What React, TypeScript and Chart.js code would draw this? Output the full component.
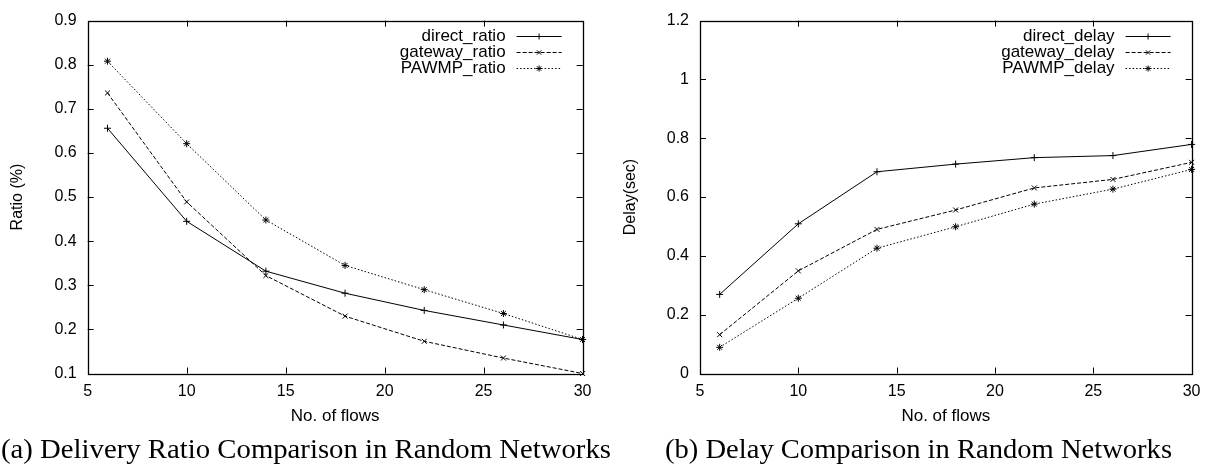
import React, { useEffect, useRef } from "react";
import { Chart, registerables } from "chart.js";

Chart.register(...registerables);

// ---- data ----
const xFlows = [6, 10, 14, 18, 22, 26, 30];

const directRatio = [0.656, 0.445, 0.332, 0.282, 0.243, 0.21, 0.177];
const gatewayRatio = [0.736, 0.489, 0.322, 0.23, 0.173, 0.135, 0.1];
const pawmpRatio = [0.808, 0.621, 0.448, 0.345, 0.29, 0.236, 0.177];

const directDelay = [0.269, 0.509, 0.686, 0.712, 0.734, 0.741, 0.779];
const gatewayDelay = [0.132, 0.349, 0.49, 0.556, 0.631, 0.66, 0.718];
const pawmpDelay = [0.089, 0.256, 0.426, 0.499, 0.576, 0.627, 0.694];

const ratioLabels = ["direct_ratio", "gateway_ratio", "PAWMP_ratio"];
const delayLabels = ["direct_delay", "gateway_delay", "PAWMP_delay"];

const xTitle = "No. of flows";
const ratioTitle = "Ratio (%)";
const delayTitle = "Delay(sec)";
const captionA = "(a) Delivery Ratio Comparison in Random Networks";
const captionB = "(b) Delay Comparison in Random Networks";

const FONT = "Liberation Sans";
const FS_TICK = 16;
const FS_TITLE = 17;
const FS_YTITLE = 16;
const FS_LEGEND = 17;

const styles = [
  { dash: [] as number[], point: "cross" },
  { dash: [4, 2], point: "crossRot" },
  { dash: [1.5, 2], point: "star" },
];

function drawMarker(ctx: CanvasRenderingContext2D, style: string, x: number, y: number, r: number) {
  ctx.save();
  ctx.setLineDash([]);
  ctx.lineWidth = 1;
  ctx.strokeStyle = "#000";
  ctx.beginPath();
  if (style === "cross" || style === "star") {
    ctx.moveTo(x - r, y);
    ctx.lineTo(x + r, y);
    ctx.moveTo(x, y - r);
    ctx.lineTo(x, y + r);
  }
  if (style === "crossRot" || style === "star") {
    const d = r * 0.72;
    ctx.moveTo(x - d, y - d);
    ctx.lineTo(x + d, y + d);
    ctx.moveTo(x - d, y + d);
    ctx.lineTo(x + d, y - d);
  }
  ctx.stroke();
  ctx.restore();
}

const framePlugin = {
  id: "gnuFrame",
  afterDatasetsDraw(chart: any) {
    const { ctx, chartArea: a, scales } = chart;
    ctx.save();
    ctx.strokeStyle = "#000";
    ctx.lineWidth = 1;
    ctx.setLineDash([]);
    const L = 6;
    ctx.beginPath();
    for (const t of scales.x.ticks) {
      const px = Math.round(scales.x.getPixelForValue(t.value)) + 0.5;
      if (px <= a.left + 1 || px >= a.right - 1) continue;
      ctx.moveTo(px, a.bottom);
      ctx.lineTo(px, a.bottom - L);
      ctx.moveTo(px, a.top);
      ctx.lineTo(px, a.top + L);
    }
    for (const t of scales.y.ticks) {
      const py = Math.round(scales.y.getPixelForValue(t.value)) + 0.5;
      if (py <= a.top + 1 || py >= a.bottom - 1) continue;
      ctx.moveTo(a.left, py);
      ctx.lineTo(a.left + L, py);
      ctx.moveTo(a.right, py);
      ctx.lineTo(a.right - L, py);
    }
    ctx.stroke();
    ctx.lineWidth = 1.3;
    ctx.strokeRect(Math.round(a.left) + 0.5, Math.round(a.top) + 0.5, Math.round(a.right - a.left), Math.round(a.bottom - a.top));
    ctx.restore();
  },
};

const legendPlugin = {
  id: "gnuLegend",
  afterDraw(chart: any) {
    const { ctx, chartArea: a } = chart;
    ctx.save();
    ctx.font = `${FS_LEGEND}px "${FONT}"`;
    ctx.fillStyle = "#000";
    ctx.textAlign = "right";
    ctx.textBaseline = "middle";
    chart.data.datasets.forEach((ds: any, i: number) => {
      const y = a.top + 15.5 + i * 16;
      ctx.fillText(ds.label, a.right - 77, y);
      const x0 = a.right - 66;
      const x1 = a.right - 21;
      ctx.beginPath();
      ctx.setLineDash(ds.borderDash || []);
      ctx.lineWidth = 1;
      ctx.strokeStyle = "#000";
      ctx.moveTo(x0, Math.round(y) + 0.5);
      ctx.lineTo(x1, Math.round(y) + 0.5);
      ctx.stroke();
      drawMarker(ctx, ds.pointStyle, (x0 + x1) / 2, Math.round(y) + 0.5, 3);
    });
    ctx.restore();
  },
};

function makeDatasets(series: number[][], labels: string[]) {
  return series.map((vals, i) => ({
    label: labels[i],
    data: xFlows.map((x, j) => ({ x, y: vals[j] })),
    borderColor: "#000",
    backgroundColor: "#000",
    borderWidth: 1,
    borderDash: styles[i].dash,
    pointStyle: styles[i].point,
    pointRadius: 3.5,
    pointBorderWidth: 1,
    pointBorderColor: "#000",
    tension: 0,
    clip: false as any,
  }));
}

function makeConfig(opts: {
  series: number[][];
  labels: string[];
  yMin: number;
  yMax: number;
  yStep: number;
  yTitle: string;
  padLeft: number;
  padRight: number;
  yWidth: number;
  height: number;
}) {
  const tickFont = { family: FONT, size: FS_TICK };
  return {
    type: "line" as const,
    data: { datasets: makeDatasets(opts.series, opts.labels) },
    plugins: [framePlugin, legendPlugin],
    options: {
      animation: false as const,
      responsive: false,
      devicePixelRatio: 1,
      layout: { padding: { left: opts.padLeft, right: opts.padRight, top: 17, bottom: 0 } },
      plugins: { legend: { display: false }, tooltip: { enabled: false } },
      scales: {
        x: {
          type: "linear" as const,
          min: 5,
          max: 30,
          ticks: { stepSize: 5, padding: 8.5, color: "#000", font: tickFont, maxRotation: 0 },
          grid: { display: false, drawTicks: false },
          border: { display: false },
          title: {
            display: true,
            text: xTitle,
            color: "#000",
            font: { family: FONT, size: FS_TITLE },
            padding: { top: 0, bottom: 0 },
          },
          afterFit: (s: any) => {
            s.height = opts.height - 373.5;
          },
        },
        y: {
          type: "linear" as const,
          min: opts.yMin,
          max: opts.yMax,
          ticks: {
            stepSize: opts.yStep,
            padding: 11,
            color: "#000",
            font: tickFont,
            callback: (v: any) => String(Math.round(Number(v) * 10) / 10),
          },
          grid: { display: false, drawTicks: false },
          border: { display: false },
          title: {
            display: true,
            text: opts.yTitle,
            color: "#000",
            font: { family: FONT, size: FS_YTITLE },
            padding: { top: 7.5, bottom: 0 },
          },
          afterFit: (s: any) => {
            s.width = opts.yWidth;
          },
        },
      },
    },
  };
}

export default function App() {
  const leftRef = useRef<HTMLCanvasElement>(null);
  const rightRef = useRef<HTMLCanvasElement>(null);
  const H = 427;

  useEffect(() => {
    const c1 = new Chart(
      leftRef.current!,
      makeConfig({
        series: [directRatio, gatewayRatio, pawmpRatio],
        labels: ratioLabels,
        yMin: 0.1,
        yMax: 0.9,
        yStep: 0.1,
        yTitle: ratioTitle,
        padLeft: 0,
        padRight: 16,
        yWidth: 87.7,
        height: H,
      }) as any
    );
    const c2 = new Chart(
      rightRef.current!,
      makeConfig({
        series: [directDelay, gatewayDelay, pawmpDelay],
        labels: delayLabels,
        yMin: 0,
        yMax: 1.2,
        yStep: 0.2,
        yTitle: delayTitle,
        padLeft: 13,
        padRight: 13,
        yWidth: 87,
        height: H,
      }) as any
    );
    return () => {
      c1.destroy();
      c2.destroy();
    };
  }, []);

  return (
    <div style={{ position: "fixed", left: 0, top: 0, width: 1209, height: 464, background: "#fff", overflow: "hidden" }}>
      <canvas ref={leftRef} width={600} height={H} style={{ position: "absolute", left: 0, top: 0, width: 600, height: H }} />
      <canvas ref={rightRef} width={609} height={H} style={{ position: "absolute", left: 600, top: 0, width: 609, height: H }} />
      <svg width={1209} height={464} style={{ position: "absolute", left: 0, top: 0, pointerEvents: "none" }}>
        <text x={1} y={458} textLength={610} lengthAdjust="spacingAndGlyphs" fontFamily="Liberation Serif" fontSize={27} fill="#000">
          {captionA}
        </text>
        <text x={665} y={458} textLength={507} lengthAdjust="spacingAndGlyphs" fontFamily="Liberation Serif" fontSize={27} fill="#000">
          {captionB}
        </text>
      </svg>
    </div>
  );
}
